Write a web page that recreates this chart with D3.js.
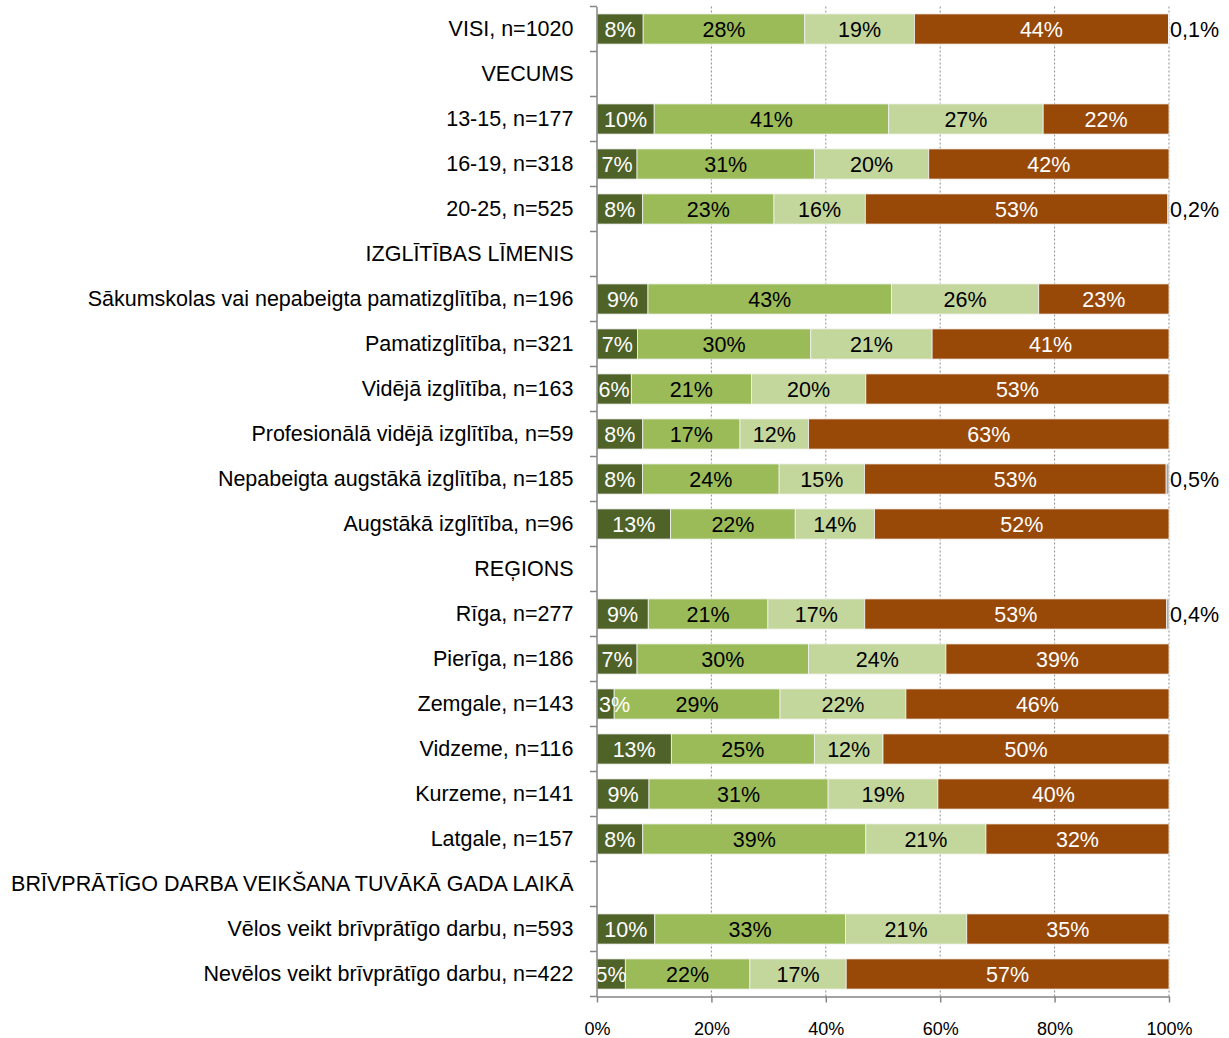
<!DOCTYPE html>
<html><head><meta charset="utf-8">
<script src="https://cdn.jsdelivr.net/npm/d3@7"></script>
<style>body{margin:0;background:#fff;}svg{display:block;font-family:"Liberation Sans",Arial,sans-serif;}</style>
</head><body>
<svg id="c" width="1229" height="1038"></svg>
<script>
const categories = [
  "VISI, n=1020","VECUMS","13-15, n=177","16-19, n=318","20-25, n=525",
  "IZGLĪTĪBAS LĪMENIS","Sākumskolas vai nepabeigta pamatizglītība, n=196","Pamatizglītība, n=321",
  "Vidējā izglītība, n=163","Profesionālā vidējā izglītība, n=59","Nepabeigta augstākā izglītība, n=185",
  "Augstākā izglītība, n=96","REĢIONS","Rīga, n=277","Pierīga, n=186","Zemgale, n=143",
  "Vidzeme, n=116","Kurzeme, n=141","Latgale, n=157","BRĪVPRĀTĪGO DARBA VEIKŠANA TUVĀKĀ GADA LAIKĀ",
  "Vēlos veikt brīvprātīgo darbu, n=593","Nevēlos veikt brīvprātīgo darbu, n=422"
];
// null = section header (no bar)
const s1 = [8,null,10,7,8,null,9,7,6,8,8,13,null,9,7,3,13,9,8,null,10,5];
const s2 = [28,null,41,31,23,null,43,30,21,17,24,22,null,21,30,29,25,31,39,null,33,22];
const s3 = [19,null,27,20,16,null,26,21,20,12,15,14,null,17,24,22,12,19,21,null,21,17];
const s4 = [44,null,22,42,53,null,23,41,53,63,53,52,null,53,39,46,50,40,32,null,35,57];
const s5 = [0.1,null,0,0,0.2,null,0,0,0,0,0.5,0,null,0.4,0,0,0,0,0,null,0,0];
const tickLabels = ["0%","20%","40%","60%","80%","100%"];
const tickValues = [0,0.2,0.4,0.6,0.8,1];

const seriesKeys = ["s1","s2","s3","s4","s5"];
const colors = {s1:"#4f6228", s2:"#9bbb59", s3:"#c3d69b", s4:"#984807", s5:"#a6a6a6"};
const textColors = {s1:"#fff", s2:"#000", s3:"#000", s4:"#fff"};

const rows = categories.map((c,i)=>({cat:c, s1:s1[i], s2:s2[i], s3:s3[i], s4:s4[i], s5:s5[i]}));
const barRows = rows.filter(r=>r.s1!==null);

const svg = d3.select("#c");
const x = d3.scaleLinear().domain([0,1]).range([597,1169]);
const y = d3.scaleBand().domain(categories).range([6.5,996.5]).paddingInner(0.33).paddingOuter(0.165);
const FS = 21.5;

// grid
svg.append("g").selectAll("line").data(tickValues.slice(1)).join("line")
  .attr("x1",d=>x(d)).attr("x2",d=>x(d)).attr("y1",6.5).attr("y2",996.5)
  .attr("stroke","#8c8c8c").attr("stroke-width",1).attr("stroke-dasharray","2,2");

const stack = d3.stack().keys(seriesKeys).offset(d3.stackOffsetExpand);
const stacked = stack(barRows);

const gBars = svg.append("g");
const gText = svg.append("g");
stacked.forEach(layer=>{
  const key = layer.key;
  gBars.append("g").selectAll("rect").data(layer).join("rect")
    .attr("x",d=>x(d[0])).attr("width",d=>Math.max(0,x(d[1])-x(d[0])))
    .attr("y",d=>y(d.data.cat)).attr("height",y.bandwidth())
    .attr("fill",colors[key]).attr("stroke","#f2f2f2").attr("stroke-width",0.8);
  if (key!=="s5") {
    gText.append("g").selectAll("text").data(layer).join("text")
      .attr("x",d=>{
        const w = x(d[1])-x(d[0]);
        return w < 28 ? x(d[0])+2 : (x(d[0])+x(d[1]))/2;
      })
      .attr("text-anchor",d=>(x(d[1])-x(d[0])) < 28 ? "start" : "middle")
      .attr("y",d=>y(d.data.cat)+y.bandwidth()/2)
      .attr("dy","0.36em")
      .attr("font-size",FS).attr("fill",textColors[key])
      .text(d=>d.data[key]+"%");
  } else {
    gText.append("g").selectAll("text").data(layer.filter(d=>d.data.s5>0)).join("text")
      .attr("x",1170).attr("y",d=>y(d.data.cat)+y.bandwidth()/2)
      .attr("dy","0.36em").attr("text-anchor","start")
      .attr("font-size",FS).attr("fill","#000")
      .text(d=>String(d.data.s5).replace(".",",")+"%");
  }
});

// left axis
const yAxis = d3.axisLeft(y).tickSize(0).tickPadding(23);
const ya = svg.append("g").attr("transform","translate(596.5,0)").call(yAxis);
ya.select(".domain").attr("stroke","#868686").attr("stroke-width",1.5);
ya.selectAll("text").attr("font-size",FS).attr("fill","#000").attr("font-family","Liberation Sans, Arial, sans-serif").attr("dy","0.34em");
// category boundary ticks
const bounds = categories.map(c=>y(c)-y.step()*y.paddingInner()/2);
bounds.push(996.5);
svg.append("g").selectAll("line").data(bounds).join("line")
  .attr("x1",590).attr("x2",597).attr("y1",d=>d).attr("y2",d=>d)
  .attr("stroke","#868686").attr("stroke-width",1.5);

// bottom axis
const xAxis = d3.axisBottom(x).tickValues(tickValues).tickFormat((d,i)=>tickLabels[i]).tickSize(6).tickPadding(20).tickSizeOuter(0);
const xa = svg.append("g").attr("transform","translate(0,996.5)").call(xAxis);
xa.select(".domain").attr("stroke","#868686").attr("stroke-width",1.5);
xa.selectAll(".tick line").attr("stroke","#868686").attr("stroke-width",1.5);
xa.selectAll("text").attr("font-size",18).attr("fill","#000").attr("font-family","Liberation Sans, Arial, sans-serif");
</script>
</body></html>
